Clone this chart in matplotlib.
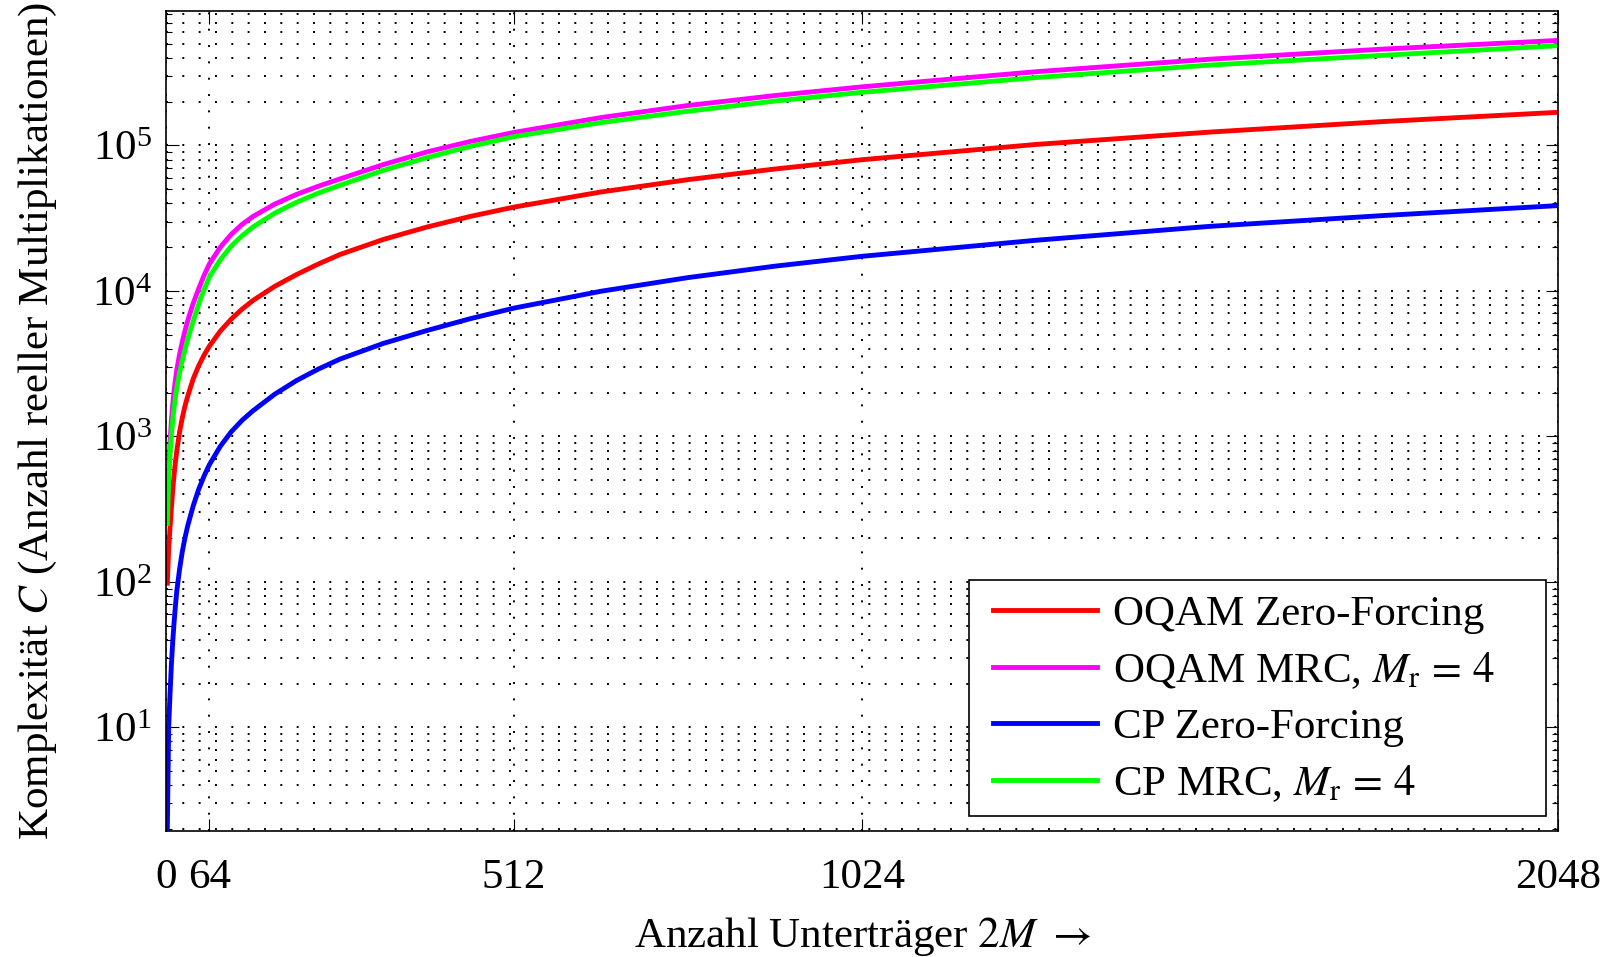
import numpy as np
import matplotlib.pyplot as plt
from matplotlib.patches import Rectangle

plt.rcParams['font.family'] = ['Liberation Serif', 'DejaVu Serif']
plt.rcParams['mathtext.fontset'] = 'stix'
plt.rcParams['font.size'] = 31

# number of subcarriers 2M
n_sub = [2, 4, 6, 8, 10, 12, 14, 16, 20, 24, 28, 32, 40, 48, 56, 64, 80, 96, 112, 128,
         160, 192, 224, 256, 320, 384, 448, 512, 640, 768, 896, 1024, 1280, 1536, 1792, 2048]

# real multiplications per scheme
c_oqam_zf = [98, 170, 235, 322, 430, 548, 672, 800, 1070, 1340, 1620, 1890, 2480, 3050,
             3620, 4180, 5300, 6400, 7500, 8600, 10750, 12950, 15300, 17800, 22600, 27500,
             32550, 37700, 47900, 58200, 68900, 79800, 101600, 123600, 146100, 169000]
c_oqam_mrc = [278, 580, 912, 1280, 1660, 2064, 2464, 2880, 3660, 4464, 5320, 6240, 8200,
              10320, 12770, 15360, 20000, 24480, 28670, 32510, 39520, 46080, 52420, 58880,
              73920, 90240, 106600, 122900, 155500, 188200, 220400, 252900, 321300, 391700,
              460000, 527000]
c_cp_zf = [2, 10, 17, 27, 39, 53, 69, 87, 122, 161, 201, 243, 332, 431, 533, 641, 855,
           1075, 1290, 1500, 1950, 2420, 2900, 3400, 4360, 5345, 6450, 7620, 9950, 12350,
           14800, 17300, 22300, 27800, 33000, 38600]
c_cp_mrc = [252, 504, 762, 1024, 1300, 1584, 1870, 2160, 2730, 3310, 3950, 4640, 6200, 8060,
            10190, 12480, 16400, 20350, 23970, 27520, 34240, 40700, 47040, 53250, 67520,
            82560, 98560, 115000, 143700, 172000, 202000, 232000, 293000, 357000, 417000,
            485000]

labels = ['OQAM Zero-Forcing', r'OQAM MRC, $M_\mathrm{r}\,=\,4$',
          'CP Zero-Forcing', r'CP MRC, $M_\mathrm{r}\,=\,4$']
colors = ['#ff0000', '#ff00ff', '#0000ff', '#00ff00']
x_ticks = [0, 64, 512, 1024, 2048]

fig = plt.figure(figsize=(16.05, 9.57), dpi=100)
ax = fig.add_axes([0.1034, 0.1317, 0.8673, 0.8568])

for c, col, lab in zip([c_oqam_zf, c_oqam_mrc, c_cp_zf, c_cp_mrc], colors, labels):
    ax.plot(n_sub, c, color=col, lw=3.5, label=lab)

ax.set_yscale('log')
ax.set_xlim(0, 2048)
ax.set_ylim(1.94, 8.4e5)
ax.set_xticks(x_ticks)
ax.set_xticklabels([str(t) for t in x_ticks])

dots = (0, (1, 7.4))
ax.grid(True, which='both', axis='y', color='k', ls=dots, lw=1.4)
ax.grid(True, which='major', axis='x', color='k', ls=dots, lw=1.4)

ax.tick_params(which='both', direction='in', top=True, right=True, width=0.8)
ax.tick_params(which='major', length=9)
ax.tick_params(which='minor', length=4.5)
ax.tick_params(axis='x', pad=20)
ax.tick_params(axis='y', pad=10)
for s in ax.spines.values():
    s.set_linewidth(1.2)

ax.set_xlabel(r'Anzahl Unterträger $2M$ $\rightarrow$', labelpad=13)
ax.set_ylabel(r'Komplexität $C$ (Anzahl reeller Multiplikationen)', labelpad=24)

# legend without its own frame, boxed separately so the right margin stays wide
leg = ax.legend(loc='upper left', bbox_to_anchor=(0.594, 0.288), frameon=False,
                handlelength=2.42, handletextpad=0.38, labelspacing=0.38,
                borderpad=0, borderaxespad=0)
leg.set_zorder(5)
box = Rectangle((0.5772, 0.0185), 0.9911 - 0.5772, 0.3056 - 0.0185,
                transform=ax.transAxes, facecolor='white', edgecolor='k', lw=1.2, zorder=4)
ax.add_patch(box)

fig.savefig('out.png', dpi=100)
